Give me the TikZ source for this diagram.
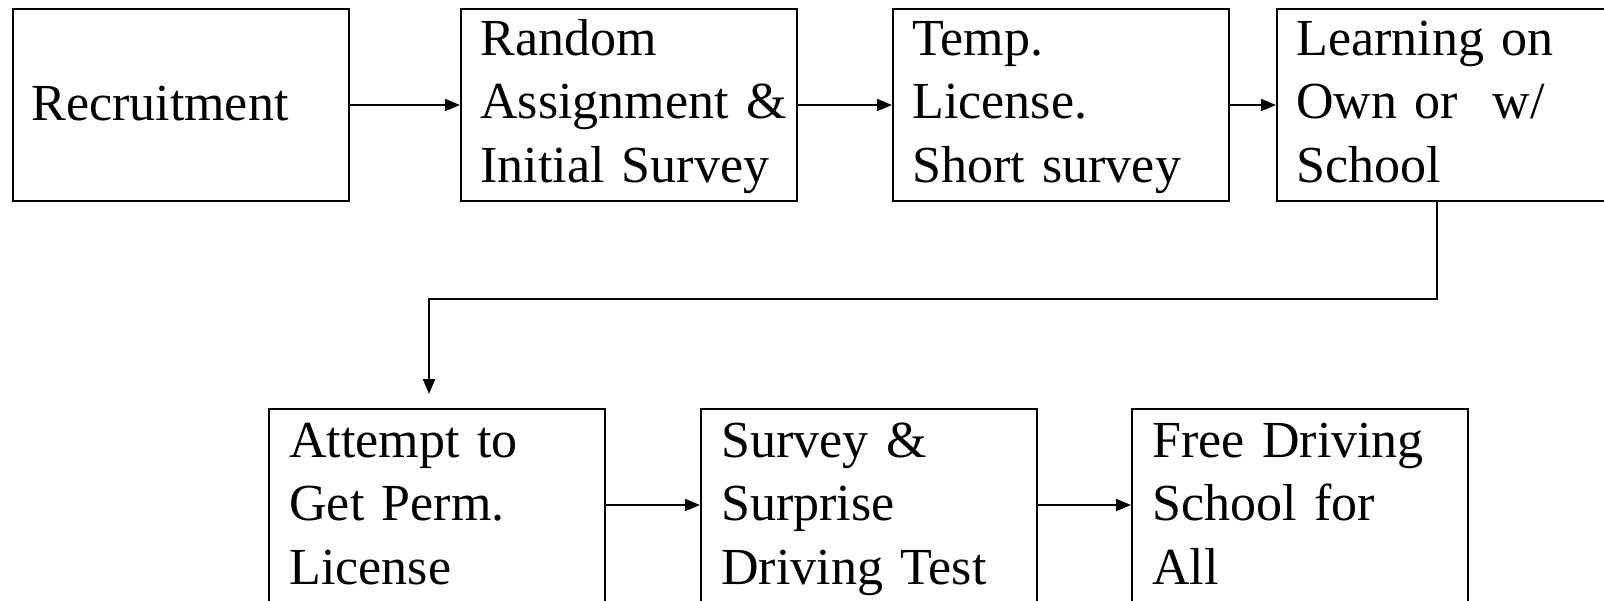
\documentclass[tikz,border=0pt]{standalone}
\usepackage{fontspec}
\setmainfont{Liberation Serif}
\usetikzlibrary{arrows.meta,calc}
\begin{document}
\begin{tikzpicture}[x=0.5pt,y=-0.5pt,
  box/.style={draw, line width=1pt, minimum width=168pt, minimum height=96pt,
    anchor=north west, inner sep=0pt},
  lowbox/.style={box, minimum height=100pt},
  txt/.style={anchor=base west, inner sep=0pt, align=left, text width=160pt,
    font=\fontsize{26}{31.75}\selectfont},
  arr/.style={line width=1pt, -{Triangle[length=7.5pt,width=6pt]}}]
\useasboundingbox (0,0) rectangle (1604,600);
% upper row
\node[box] (b1) at (12,8) {};
\node[box] (b2) at (460,8) {};
\node[box] (b3) at (892,8) {};
\node[box] (b4) at (1276,8) {};
% lower row
\node[lowbox] (b5) at (268,408) {};
\node[lowbox] (b6) at (700,408) {};
\node[lowbox] (b7) at (1131,408) {};
% box texts
\node[txt] (t1) at ($(b1.north west)+(19,112)$) {Recruitment};
\node[txt] (t2) at ($(b2.north west)+(20,47)$) {Random\\Assignment \&\\Initial Survey};
\node[txt] (t3) at ($(b3.north west)+(20,47)$) {Temp.\\License.\\Short survey};
\node[txt] (t4) at ($(b4.north west)+(20,47)$) {Learning on\\Own or\ \ w/\\School};
\node[txt] (t5) at ($(b5.north west)+(21,49)$) {Attempt to\\Get Perm.\\License};
\node[txt] (t6) at ($(b6.north west)+(21,49)$) {Survey \&\\Surprise\\Driving Test};
\node[txt] (t7) at ($(b7.north west)+(21,49)$) {Free Driving\\School for\\All};
% connectors
\draw[arr] (b1.east) -- (b2.west);
\draw[arr] (b2.east) -- (b3.west);
\draw[arr] (b3.east) -- (b4.west);
\coordinate (c1) at ([xshift=-4pt]b4.south);
\coordinate (c2) at ([xshift=-4pt,yshift=7pt]b5.north);
\coordinate (mid) at (0,299);
\draw[arr] (c1) -- (c1 |- mid) -| (c2);
\draw[arr] ([yshift=2pt]b5.east) -- ([yshift=2pt]b6.west);
\draw[arr] ([yshift=2pt]b6.east) -- ([yshift=2pt]b7.west);
\end{tikzpicture}
\end{document}
